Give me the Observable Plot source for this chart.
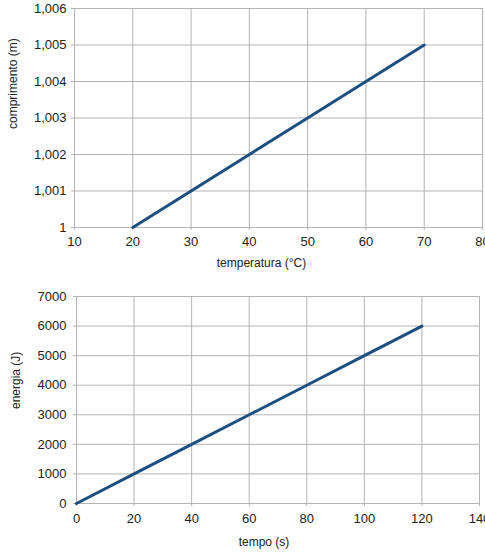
<!DOCTYPE html>
<html>
<head>
<meta charset="utf-8">
<script src="https://cdn.jsdelivr.net/npm/d3@7"></script>
<script src="https://cdn.jsdelivr.net/npm/@observablehq/plot@0.6"></script>
<style>
  html, body { margin: 0; padding: 0; background: #fff; }
  svg { display: block; }
  #c { width: 485px; }
</style>
</head>
<body>
<div id="c"></div>
<script>
// Chart 1 data
const temperatura = [20, 30, 40, 50, 60, 70];
const comprimento = [1.000, 1.001, 1.002, 1.003, 1.004, 1.005];
const xTicks1 = [10, 20, 30, 40, 50, 60, 70, 80];
const yTicks1 = [1, 1.001, 1.002, 1.003, 1.004, 1.005, 1.006];

// Chart 2 data
const tempo = [0, 20, 40, 60, 80, 100, 120];
const energia = [0, 1000, 2000, 3000, 4000, 5000, 6000];
const xTicks2 = [0, 20, 40, 60, 80, 100, 120, 140];
const yTicks2 = [0, 1000, 2000, 3000, 4000, 5000, 6000, 7000];

const gridColor = "#b3b3b3";
const lineColor = "#1b4f82";
const font = "'Liberation Sans', Arial, sans-serif";
const comma = d => (d === 1 ? "1" : d3.format(".3f")(d).replace(".", ","));

const data1 = temperatura.map((t, i) => ({x: t, y: comprimento[i]}));
const data2 = tempo.map((t, i) => ({x: t, y: energia[i]}));

const chart1 = Plot.plot({
  width: 485, height: 280,
  marginLeft: 74, marginRight: 3, marginTop: 8, marginBottom: 53,
  style: {fontFamily: font, fontSize: "13px", color: "#222", background: "#fff"},
  x: {domain: [10, 80], ticks: xTicks1, label: null},
  y: {domain: [1, 1.006], ticks: yTicks1, label: null, tickFormat: comma},
  marks: [
    Plot.gridX(xTicks1, {stroke: gridColor, strokeOpacity: 1}),
    Plot.gridY(yTicks1, {stroke: gridColor, strokeOpacity: 1}),
    Plot.frame({stroke: gridColor}),
    Plot.axisX(xTicks1, {tickSize: 3, tickPadding: 6, stroke: gridColor, fill: "#222", fontSize: 13}),
    Plot.axisY(yTicks1, {tickSize: 3, tickPadding: 5, stroke: gridColor, fill: "#222", fontSize: 13, tickFormat: comma}),
    Plot.line(data1, {x: "x", y: "y", stroke: lineColor, strokeWidth: 3}),
    Plot.text(["temperatura (°C)"], {frameAnchor: "bottom", dy: 39, dx: -17, fontSize: 12, fill: "#222"}),
    Plot.text(["comprimento (m)"], {frameAnchor: "left", dx: -61, dy: 11, rotate: -90, fontSize: 12, fill: "#222"})
  ]
});

const chart2 = Plot.plot({
  width: 485, height: 273,
  marginLeft: 76, marginRight: 6, marginTop: 16, marginBottom: 50,
  style: {fontFamily: font, fontSize: "13px", color: "#222", background: "#fff"},
  x: {domain: [0, 140], ticks: xTicks2, label: null},
  y: {domain: [0, 7000], ticks: yTicks2, label: null},
  marks: [
    Plot.gridX(xTicks2, {stroke: gridColor, strokeOpacity: 1}),
    Plot.gridY(yTicks2, {stroke: gridColor, strokeOpacity: 1}),
    Plot.frame({stroke: gridColor}),
    Plot.axisX(xTicks2, {tickSize: 3, tickPadding: 7, stroke: gridColor, fill: "#222", fontSize: 13}),
    Plot.axisY(yTicks2, {tickSize: 3, tickPadding: 7, stroke: gridColor, fill: "#222", fontSize: 13, tickFormat: d => String(d)}),
    Plot.line(data2, {x: "x", y: "y", stroke: lineColor, strokeWidth: 3}),
    Plot.text(["tempo (s)"], {frameAnchor: "bottom", dy: 42, dx: -14, fontSize: 12, fill: "#222"}),
    Plot.text(["energia (J)"], {frameAnchor: "left", dx: -60, dy: 9, rotate: -90, fontSize: 12, fill: "#222"})
  ]
});

const c = document.getElementById("c");
c.appendChild(chart1);
c.appendChild(chart2);
</script>
</body>
</html>
